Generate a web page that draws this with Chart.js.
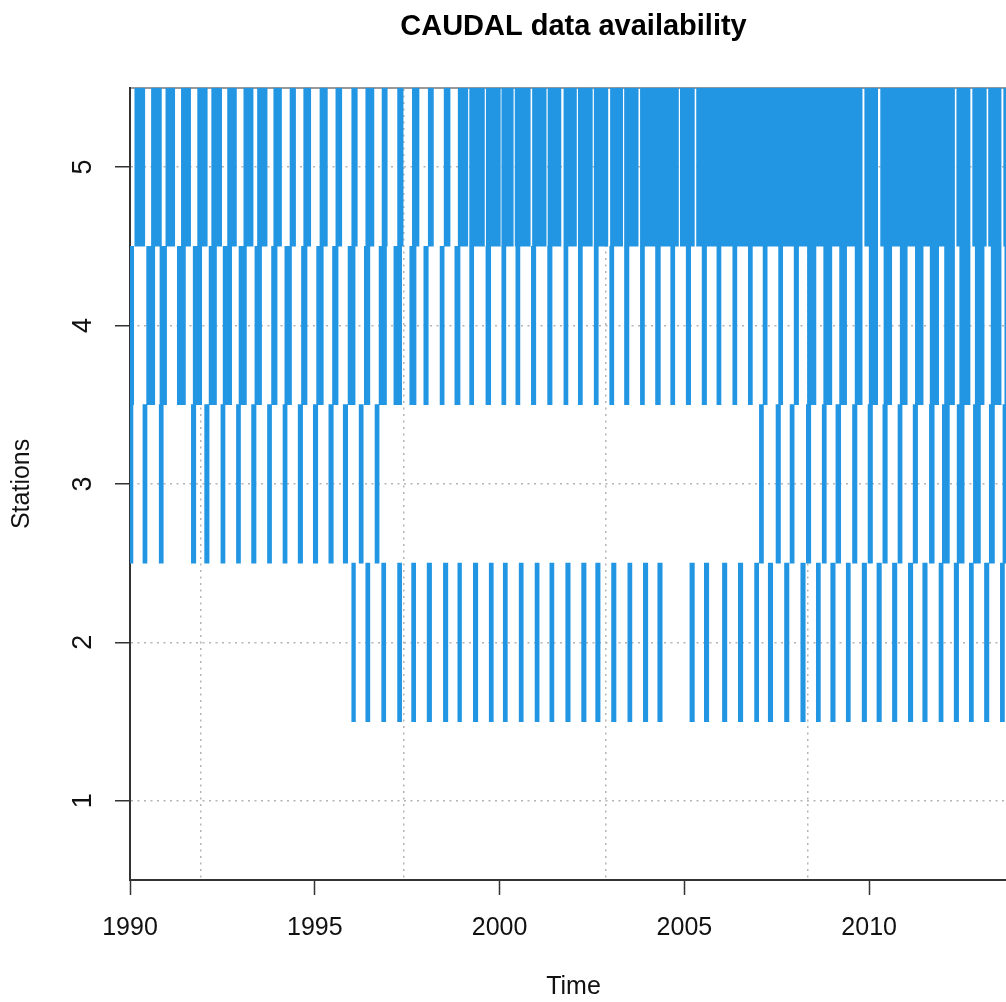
<!DOCTYPE html>
<html>
<head>
<meta charset="utf-8">
<script src="https://cdn.jsdelivr.net/npm/chart.js@4.4.1/dist/chart.umd.min.js"></script>
<style>
  html, body { margin: 0; padding: 0; background: #fff; overflow: hidden; }
</style>
</head>
<body>
<canvas id="grafica" width="1020" height="1002"></canvas>
<script>
/* Datos: periodos con datos (inicio, fin) en años decimales, por estacion */
const estaciones = [1, 2, 3, 4, 5];
const ticksAnos = [1990, 1995, 2000, 2005, 2010];
const lineasGrid = [1991.92, 1997.40, 2002.87, 2008.35];

const estacion1 = [];
const estacion2 = [
  [1996.00,1996.10],[1996.38,1996.49],[1996.81,1996.92],[1997.24,1997.35],[1997.62,1997.73],[1998.04,1998.16],
  [1998.48,1998.60],[1998.87,1998.97],[1999.29,1999.41],[1999.72,1999.83],[2000.10,2000.21],[2000.53,2000.64],
  [2000.96,2001.07],[2001.36,2001.47],[2001.79,2001.91],[2002.22,2002.34],[2002.60,2002.72],[2003.03,2003.15],
  [2003.47,2003.58],[2003.89,2004.01],[2004.28,2004.40],[2005.15,2005.27],[2005.54,2005.66],[2006.03,2006.15],
  [2006.46,2006.58],[2006.90,2007.01],[2007.27,2007.39],[2007.71,2007.83],[2008.15,2008.27],[2008.57,2008.68],
  [2008.96,2009.08],[2009.38,2009.49],[2009.81,2009.93],[2010.21,2010.33],[2010.63,2010.75],[2011.06,2011.18],
  [2011.45,2011.57],[2011.89,2012.00],[2012.30,2012.42],[2012.71,2012.82],[2013.12,2013.24],[2013.55,2013.66]
];
const estacion3 = [
  [1990.00,1990.08],[1990.35,1990.46],[1990.79,1990.90],[1991.66,1991.78],[1992.02,1992.14],[1992.46,1992.57],
  [1992.88,1992.99],[1993.29,1993.41],[1993.72,1993.83],[1994.14,1994.25],[1994.55,1994.67],[1994.96,1995.08],
  [1995.38,1995.50],[1995.77,1995.89],[1996.20,1996.31],[1996.63,1996.74],[2007.03,2007.14],[2007.48,2007.60],
  [2007.86,2007.97],[2008.30,2008.42],[2008.73,2008.84],[2009.10,2009.23],[2009.55,2009.67],[2009.97,2010.09],
  [2010.37,2010.49],[2010.78,2010.89],[2011.19,2011.31],[2011.63,2011.76],[2011.98,2012.17],[2012.38,2012.57],
  [2012.82,2013.01],[2013.25,2013.39],[2013.62,2013.75]
];
const estacion4 = [
  [1990.00,1990.10],[1990.45,1990.67],[1990.81,1990.99],[1991.28,1991.50],[1991.71,1991.94],[1992.14,1992.34],
  [1992.52,1992.75],[1992.95,1993.15],[1993.38,1993.56],[1993.83,1993.98],[1994.19,1994.37],[1994.64,1994.79],
  [1995.05,1995.23],[1995.48,1995.63],[1995.90,1996.09],[1996.34,1996.49],[1996.74,1996.94],[1997.14,1997.35],
  [1997.57,1997.74],[1997.95,1998.07],[1998.39,1998.50],[1998.79,1998.93],[1999.19,1999.30],[1999.63,1999.76],
  [2000.06,2000.17],[2000.44,2000.55],[2000.86,2000.98],[2001.30,2001.42],[2001.74,2001.85],[2002.13,2002.24],
  [2002.56,2002.67],[2002.98,2003.09],[2003.38,2003.50],[2003.81,2003.92],[2004.22,2004.35],[2004.63,2004.74],
  [2005.05,2005.17],[2005.48,2005.60],[2005.88,2005.99],[2006.31,2006.42],[2006.73,2006.84],[2007.13,2007.24],
  [2007.55,2007.66],[2007.97,2008.09],[2008.33,2008.56],[2008.77,2008.99],[2009.20,2009.39],[2009.62,2009.81],
  [2010.00,2010.23],[2010.40,2010.61],[2010.84,2011.03],[2011.25,2011.46],[2011.65,2011.88],[2012.04,2012.31],
  [2012.45,2012.73],[2012.87,2013.11],[2013.30,2013.57],[2013.67,2013.75]
];
const estacion5 = [
  [1990.13,1990.40],[1990.58,1990.85],[1990.97,1991.21],[1991.39,1991.64],[1991.83,1992.09],[1992.21,1992.48],
  [1992.64,1992.88],[1993.08,1993.33],[1993.45,1993.71],[1993.89,1994.10],[1994.33,1994.48],[1994.70,1994.89],
  [1995.14,1995.34],[1995.57,1995.73],[1996.00,1996.15],[1996.38,1996.60],[1996.82,1996.96],[1997.24,1997.39],
  [1997.64,1997.82],[1998.07,1998.21],[1998.50,1998.66],[1998.88,1999.14],[1999.19,1999.59],[1999.64,2000.02],
  [2000.06,2000.37],[2000.42,2000.83],[2000.89,2001.26],[2001.31,2001.66],[2001.74,2002.08],[2002.13,2002.51],
  [2002.56,2002.93],[2003.00,2003.33],[2003.38,2003.75],[2003.81,2004.84],[2004.89,2005.27],[2005.33,2009.81],
  [2009.88,2010.23],[2010.31,2012.31],[2012.37,2012.73],[2012.80,2013.17],[2013.23,2013.57],[2013.64,2013.75]
];
const periodos = [estacion1, estacion2, estacion3, estacion4, estacion5];

/* Construccion de las barras flotantes */
const barras = [];
estaciones.forEach((est, i) => {
  periodos[i].forEach(p => barras.push({ x: p, y: est }));
});

const azul = 'rgb(34,150,227)';
const gris = '#b4b4b4';

Chart.defaults.font.family = "'Liberation Sans', Arial, sans-serif";
Chart.defaults.color = '#111';

new Chart(document.getElementById('grafica'), {
  type: 'bar',
  data: {
    datasets: [{
      data: barras,
      backgroundColor: azul,
      borderWidth: 0,
      categoryPercentage: 1,
      barPercentage: 1
    }]
  },
  options: {
    indexAxis: 'y',
    responsive: false,
    animation: false,
    layout: { padding: { right: 3 } },
    plugins: {
      legend: { display: false },
      tooltip: { enabled: false },
      title: {
        display: true,
        text: 'CAUDAL data availability',
        fullSize: false,
        color: '#000',
        font: { size: 29, weight: 'bold' },
        padding: { top: 10, bottom: 43 }
      }
    },
    scales: {
      x: {
        type: 'linear',
        position: 'bottom',
        min: 1990,
        max: 2014,
        afterBuildTicks: s => { s.ticks = ticksAnos.map(v => ({ value: v })); },
        afterFit: s => { s.height = 122; },
        ticks: {
          font: { size: 25 },
          padding: 18,
          maxRotation: 0,
          callback: v => String(v)
        },
        grid: {
          drawOnChartArea: false,
          tickLength: 15,
          tickColor: '#333',
          tickWidth: 1.5
        },
        border: { display: true, color: '#333', width: 2 },
        title: {
          display: true,
          text: 'Time',
          font: { size: 25 },
          padding: { top: 0, bottom: 0 }
        }
      },
      xg: {
        type: 'linear',
        position: 'top',
        min: 1990,
        max: 2014,
        z: 1,
        afterBuildTicks: s => { s.ticks = lineasGrid.map(v => ({ value: v })); },
        ticks: { display: false },
        grid: { color: gris, lineWidth: 1.5, drawTicks: false },
        border: { display: true, color: '#999', width: 2, dash: [2, 4.5] }
      },
      y: {
        type: 'linear',
        min: 0.5,
        max: 5.5,
        offset: false,
        z: 1,
        afterBuildTicks: s => { s.ticks = estaciones.map(v => ({ value: v })); },
        afterFit: s => { s.width = 130; },
        ticks: {
          font: { size: 27 },
          minRotation: 90,
          maxRotation: 90,
          crossAlign: 'center',
          padding: 24
        },
        grid: {
          offset: false,
          color: gris,
          lineWidth: 1.5,
          tickLength: 15,
          tickColor: '#333',
          tickWidth: 1.5
        },
        border: { display: true, color: '#333', width: 2, dash: [2, 4.5] },
        title: {
          display: true,
          text: 'Stations',
          font: { size: 25 },
          padding: { top: 7, bottom: 0 }
        }
      }
    }
  }
});
</script>
</body>
</html>
